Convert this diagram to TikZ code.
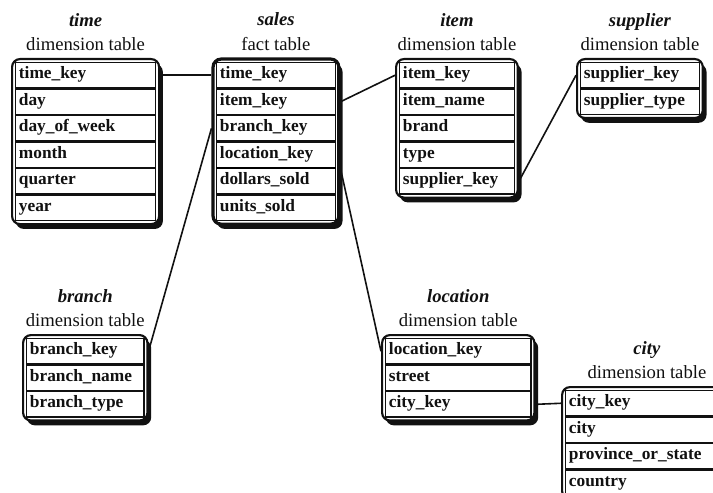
\documentclass[tikz,border=0pt]{standalone}
\usepackage{fontspec}
\setmainfont{Liberation Serif}
\usetikzlibrary{positioning,fit,backgrounds,shadows}
\definecolor{ink}{HTML}{111111}
\newcommand{\rowfont}{\fontsize{13}{15}\selectfont\bfseries}
\newcommand{\titlefont}{\fontsize{14}{18.5}\selectfont}
\tikzset{
  every node/.style={text=ink},
  field/.style={draw=ink,line width=0.9pt,anchor=north west,minimum height=19pt,inner xsep=2.5pt,inner ysep=0pt,text height=1.6ex,text depth=0.5ex,align=left,font=\rowfont},
  tabframe/.style={draw=ink,line width=1.6pt,rounded corners=6pt,fill=white,inner sep=2.2pt,drop shadow={shadow xshift=2.8pt,shadow yshift=-3.6pt,opacity=1,fill=ink}},
  facttab/.style={tabframe,line width=2.4pt},
  tabtitle/.style={align=center,font=\titlefont,inner sep=1pt},
  link/.style={draw=ink,line width=1.2pt},
}

\begin{document}
\begin{tikzpicture}[x=0.75pt,y=-0.75pt]
\useasboundingbox (0,0) rectangle (713,492);
\clip (0,0) rectangle (713,492);
% time dimension
\node[field,text width=100pt] (time1) at (15,62) {time\_key};
\node[field,text width=100pt,below=0pt of time1] (time2) {day};
\node[field,text width=100pt,below=0pt of time2] (time3) {day\_of\_week};
\node[field,text width=100pt,below=0pt of time3] (time4) {month};
\node[field,text width=100pt,below=0pt of time4] (time5) {quarter};
\node[field,text width=100pt,below=0pt of time5] (time6) {year};
% sales fact
\node[field,text width=84pt] (sales1) at (216,62) {time\_key};
\node[field,text width=84pt,below=0pt of sales1] (sales2) {item\_key};
\node[field,text width=84pt,below=0pt of sales2] (sales3) {branch\_key};
\node[field,text width=84pt,below=0pt of sales3] (sales4) {location\_key};
\node[field,text width=84pt,below=0pt of sales4] (sales5) {dollars\_sold};
\node[field,text width=84pt,below=0pt of sales5] (sales6) {units\_sold};
% item dimension
\node[field,text width=81pt] (item1) at (399,62) {item\_key};
\node[field,text width=81pt,below=0pt of item1] (item2) {item\_name};
\node[field,text width=81pt,below=0pt of item2] (item3) {brand};
\node[field,text width=81pt,below=0pt of item3] (item4) {type};
\node[field,text width=81pt,below=0pt of item4] (item5) {supplier\_key};
% supplier dimension
\node[field,text width=84pt] (supplier1) at (580,62) {supplier\_key};
\node[field,text width=84pt,below=0pt of supplier1] (supplier2) {supplier\_type};
% branch dimension
\node[field,text width=83pt] (branch1) at (26,338) {branch\_key};
\node[field,text width=83pt,below=0pt of branch1] (branch2) {branch\_name};
\node[field,text width=83pt,below=0pt of branch2] (branch3) {branch\_type};
% location dimension
\node[field,text width=104pt] (location1) at (385,338) {location\_key};
\node[field,text width=104pt,below=0pt of location1] (location2) {street};
\node[field,text width=104pt,below=0pt of location2] (location3) {city\_key};
% city dimension
\node[field,text width=117pt] (city1) at (565,390) {city\_key};
\node[field,text width=117pt,below=0pt of city1] (city2) {city};
\node[field,text width=117pt,below=0pt of city2] (city3) {province\_or\_state};
\node[field,text width=117pt,below=0pt of city3] (city4) {country};
\draw[line width=1.8pt] (sales4.south west) -- (sales4.south east);

\begin{scope}[on background layer]
\node[tabframe,fit=(time1)(time6)] (timebox) {};
\node[facttab,fit=(sales1)(sales6)] (salesbox) {};
\node[tabframe,fit=(item1)(item5)] (itembox) {};
\node[tabframe,fit=(supplier1)(supplier2)] (supplierbox) {};
\node[tabframe,fit=(branch1)(branch3)] (branchbox) {};
\node[tabframe,fit=(location1)(location3)] (locationbox) {};
\node[tabframe,fit=(city1)(city4)] (citybox) {};
\end{scope}

\node[tabtitle,above=4pt of timebox] (timetitle) {\textbf{\textit{time}}\\dimension table};
\node[tabtitle,above=4pt of salesbox] (salestitle) {\textbf{\textit{sales}}\\fact table};
\node[tabtitle,above=4pt of itembox] (itemtitle) {\textbf{\textit{item}}\\dimension table};
\node[tabtitle,above=4pt of supplierbox] (suppliertitle) {\textbf{\textit{supplier}}\\dimension table};
\node[tabtitle,above=4pt of branchbox] (branchtitle) {\textbf{\textit{branch}}\\dimension table};
\node[tabtitle,above=4pt of locationbox] (locationtitle) {\textbf{\textit{location}}\\dimension table};
\node[tabtitle,above=4pt of citybox] (citytitle) {\textbf{\textit{city}}\\dimension table};

\draw[link] (time1 -| timebox.east) -- (sales1 -| salesbox.west);
\draw[link] (sales2 -| salesbox.east) -- (item1 -| itembox.west);
\draw[link] (item5 -| itembox.east) -- (supplier1 -| supplierbox.west);
\draw[link] (sales3 -| salesbox.west) -- (branch1 -| branchbox.east);
\draw[link] (sales4.south -| salesbox.east) -- (location1 -| locationbox.west);
\draw[link] (location3 -| locationbox.east) -- (city1 -| citybox.west);
\end{tikzpicture}
\end{document}
